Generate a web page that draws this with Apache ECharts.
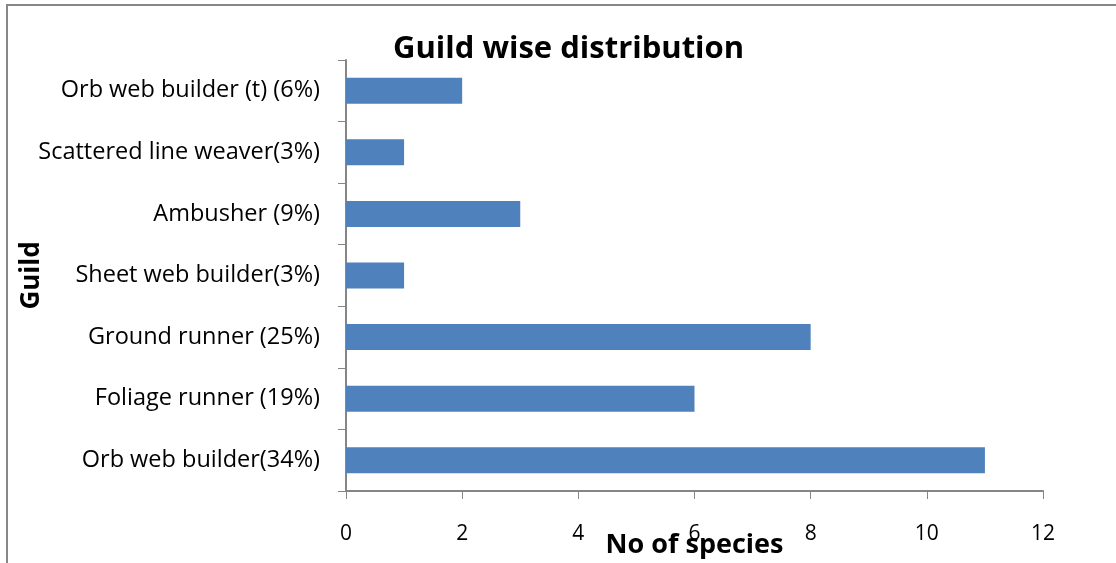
<!DOCTYPE html>
<html>
<head>
<meta charset="utf-8">
<script src="https://cdn.jsdelivr.net/npm/echarts@6/dist/echarts.min.js"></script>
<style>
  * { margin: 0; padding: 0; }
  body { background: #fff; }
  #main { width: 1116px; height: 563px; }
</style>
</head>
<body>
<div id="main"></div>
<script>
// categories bottom to top, as drawn
var guilds = ['Orb web builder(34%)', 'Foliage runner (19%)', 'Ground runner (25%)',
  'Sheet web builder(3%)', 'Ambusher (9%)', 'Scattered line weaver(3%)', 'Orb web builder (t) (6%)'];
var species = [11, 6, 8, 1, 3, 1, 2];
var xTicks = [0, 2, 4, 6, 8, 10, 12];

var font = '"Open Sans", sans-serif';
var chart = echarts.init(document.getElementById('main'));
chart.setOption({
  animation: false,
  backgroundColor: '#fff',
  title: {
    text: 'Guild wise distribution',
    left: 388,
    top: 29,
    textStyle: { fontFamily: font, fontSize: 31, fontWeight: 'bold', color: '#000' }
  },
  graphic: [{
    type: 'rect',
    shape: { x: 7, y: 5, width: 1300, height: 800 },
    style: { fill: 'none', stroke: '#878787', lineWidth: 2 }
  }],
  grid: { left: 346, right: 73, top: 60, bottom: 72, containLabel: false, outerBoundsMode: 'none' },
  xAxis: {
    type: 'value',
    min: xTicks[0],
    max: xTicks[xTicks.length - 1],
    interval: 2,
    name: 'No of species',
    nameLocation: 'middle',
    nameGap: 41,
    nameMoveOverlap: false,
    nameTextStyle: { fontFamily: font, fontSize: 27, fontWeight: 'bold', color: '#000' },
    axisLine: { show: true, lineStyle: { color: '#868686', width: 2 } },
    axisTick: { show: true, length: 8, lineStyle: { color: '#868686', width: 1 } },
    axisLabel: { margin: 33, fontFamily: font, fontSize: 21, color: '#000' },
    splitLine: { show: false }
  },
  yAxis: {
    type: 'category',
    data: guilds,
    name: 'Guild',
    nameLocation: 'middle',
    nameGap: 301,
    nameMoveOverlap: false,
    nameRotate: 90,
    nameTextStyle: { fontFamily: font, fontSize: 26, fontWeight: 'bold', color: '#000' },
    axisLine: { show: true, lineStyle: { color: '#868686', width: 2 } },
    axisTick: { show: true, length: 8, lineStyle: { color: '#868686', width: 1 } },
    axisLabel: { margin: 26, fontFamily: font, fontSize: 23.5, color: '#000' }
  },
  series: [{
    type: 'bar',
    data: species,
    barWidth: 26,
    itemStyle: { color: '#4F81BD' }
  }]
});
</script>
</body>
</html>
